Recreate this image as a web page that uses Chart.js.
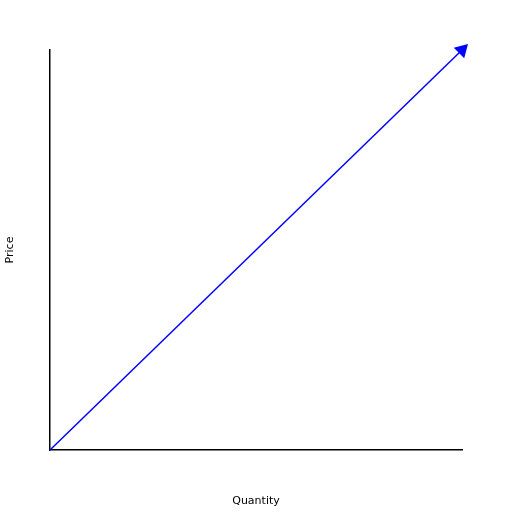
<!DOCTYPE html>
<html>
<head>
<script src="https://cdn.jsdelivr.net/npm/chart.js@4/dist/chart.umd.min.js"></script>
<style>body{margin:0;background:#fff}#wrap{width:512px;height:512px}</style>
</head>
<body>
<div id="wrap"><canvas id="myChart"></canvas></div>
<script>
"use strict";
var quantity = [0, 10];
var price = [0, 10];

var points = quantity.map(function(q, i) { return {x: q, y: price[i]}; });

var ctx = document.getElementById('myChart').getContext('2d');
new Chart(ctx, {
  type: 'line',
  data: {
    datasets: [{
      data: points,
      borderColor: '#0000ff',
      backgroundColor: '#0000ff',
      borderWidth: 1.5,
      pointStyle: 'triangle',
      pointRotation: 45,
      pointRadius: [0, 7],
      clip: false
    }]
  },
  options: {
    responsive: true,
    maintainAspectRatio: false,
    animation: false,
    layout: {padding: {top: 50, right: 50, left: 0, bottom: 0}},
    plugins: {legend: {display: false}, tooltip: {enabled: false}},
    scales: {
      x: {
        type: 'linear', min: 0, max: 10,
        grid: {display: false, drawTicks: false},
        border: {color: '#000', width: 1.5},
        ticks: {display: false},
        title: {display: true, text: 'Quantity', color: '#000', font: {family: 'DejaVu Sans', size: 11}},
        afterFit: function(s) { s.height = 62; }
      },
      y: {
        min: 0, max: 10,
        grid: {display: false, drawTicks: false},
        border: {color: '#000', width: 1.5},
        ticks: {display: false},
        title: {display: true, text: 'Price', color: '#000', font: {family: 'DejaVu Sans', size: 11}},
        afterFit: function(s) { s.width = 50; }
      }
    }
  }
});
</script>
</body>
</html>
